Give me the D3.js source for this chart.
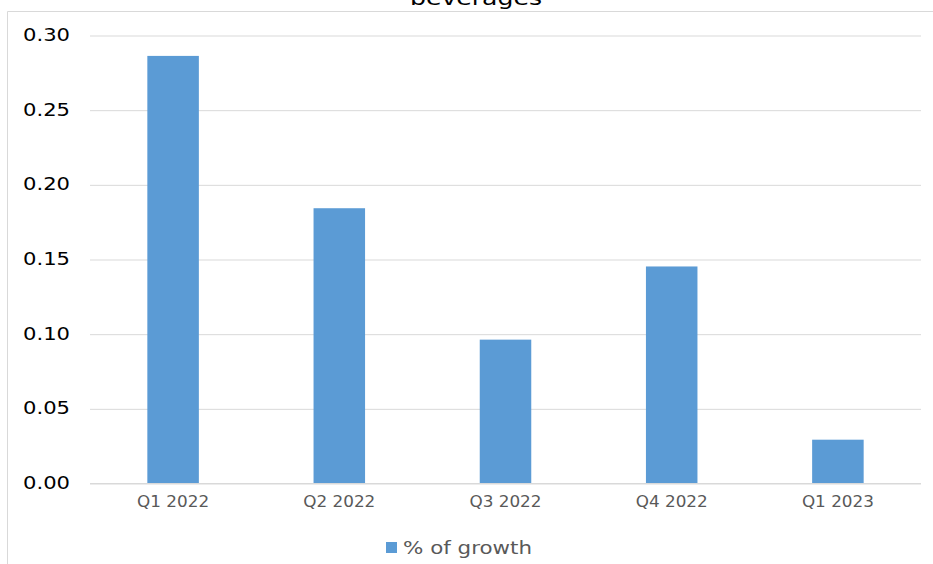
<!DOCTYPE html>
<html><head><meta charset="utf-8">
<script src="https://cdn.jsdelivr.net/npm/d3@7"></script>
<style>body{margin:0;background:#fff;}svg{display:block;}</style>
</head><body>
<svg id="c" width="933" height="564"></svg>
<script>
const categories = ["Q1 2022","Q2 2022","Q3 2022","Q4 2022","Q1 2023"];
const growth = [0.286, 0.184, 0.096, 0.145, 0.029];
const yTicks = [0, 0.05, 0.10, 0.15, 0.20, 0.25, 0.30];
const seriesName = "% of growth";
const title = "beverages";

const svg = d3.select("#c");
const W = 933, H = 564;
const m = {left: 90, right: 12, top: 35, bottom: 81};

// chart border
svg.append("path").attr("d", `M7.5,${H} L7.5,11.5 L${W},11.5`)
  .attr("fill","none").attr("stroke","#d9d9d9").attr("stroke-width",1);

svg.append("text").attr("x", 476).attr("y", 5)
  .attr("text-anchor","middle").attr("font-family","DejaVu Sans")
  .attr("font-size",20).attr("fill","#000")
  .attr("textLength",132).attr("lengthAdjust","spacingAndGlyphs")
  .text(title);

const x = d3.scaleBand().domain(categories).range([m.left, W - m.right]).paddingInner(0.69).paddingOuter(0.345);
const y = d3.scaleLinear().domain([0, 0.30]).range([H - m.bottom, m.top]);

// gridlines
const grid = svg.append("g").attr("transform",`translate(${m.left},0)`)
  .call(d3.axisLeft(y).tickValues(yTicks).tickSize(-(W - m.right - m.left)).tickFormat(""));
grid.select(".domain").remove();
grid.selectAll("line").attr("stroke","#d9d9d9").attr("stroke-width",1)
  .attr("transform","translate(0,0.5)");

// y labels
svg.append("g").selectAll("text").data(yTicks).join("text")
  .attr("x", 70).attr("y", d => y(d) + 6)
  .attr("text-anchor","end").attr("font-family","DejaVu Sans").attr("font-size",17)
  .attr("fill","#000")
  .attr("textLength",47).attr("lengthAdjust","spacingAndGlyphs")
  .text(d => d3.format(".2f")(d));

// bars
svg.append("g").selectAll("rect").data(growth).join("rect")
  .attr("x",(d,i)=>x(categories[i])).attr("width",x.bandwidth())
  .attr("y",d=>y(d)).attr("height",d=>y(0)-y(d))
  .attr("fill","#5b9bd5");

// x axis
const xa = svg.append("g").attr("transform",`translate(0,${y(0)+0.5})`)
  .call(d3.axisBottom(x).tickSize(0).tickPadding(13));
xa.select(".domain").attr("stroke","#d9d9d9").attr("d",`M${m.left},0H${W-m.right}`);
xa.selectAll("text").attr("font-family","DejaVu Sans").attr("font-size",15)
  .attr("fill","#595959").attr("textLength",72).attr("lengthAdjust","spacingAndGlyphs");

// legend
const lg = svg.append("g");
lg.append("rect").attr("x",386).attr("y",542).attr("width",11).attr("height",11).attr("fill","#5b9bd5");
lg.append("text").attr("x",403).attr("y",554).attr("font-family","DejaVu Sans").attr("font-size",17)
  .attr("fill","#595959").attr("textLength",129).attr("lengthAdjust","spacingAndGlyphs")
  .text(seriesName);
</script>
</body></html>
